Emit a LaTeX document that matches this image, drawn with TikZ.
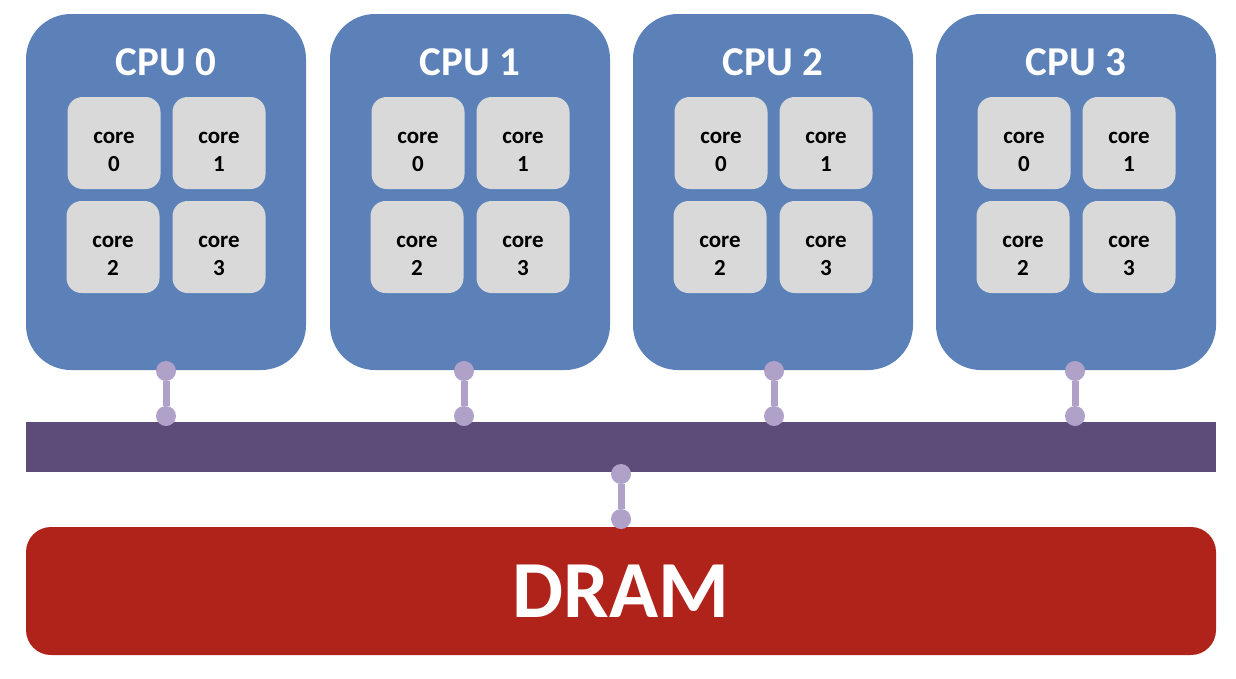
\documentclass[tikz,border=0pt]{standalone}
\usepackage{fontspec}
\setmainfont{Carlito}
\usetikzlibrary{positioning}
\definecolor{cpublue}{HTML}{5B81B8}
\definecolor{coregray}{HTML}{D9D9D9}
\definecolor{busviolet}{HTML}{5D4B7A}
\definecolor{linklilac}{HTML}{B0A1C8}
\definecolor{dramred}{HTML}{B0231A}
\tikzset{
  cpu/.style={fill=cpublue, rounded corners=45pt, minimum width=280pt, minimum height=356pt, inner sep=0pt},
  cpulabel/.style={text=white, font=\fontsize{41}{41}\selectfont\bfseries},
  core/.style={fill=coregray, rounded corners=15pt, minimum width=93pt, minimum height=92pt, inner sep=0pt},
  coretext/.style={align=center, yshift=-9pt, font=\fontsize{23}{28}\selectfont\bfseries},
  link/.style={draw=linklilac, line width=7pt},
  joint/.style={circle, fill=linklilac, minimum size=20pt, inner sep=0pt},
}

\begin{document}
\begin{tikzpicture}[x=1pt,y=-1pt]
        \useasboundingbox (0,0) rectangle (1236,678);
        % shared bus and main memory
        \node[fill=busviolet, minimum width=1190pt, minimum height=50pt, inner sep=0pt] (bus) at (621,447) {};
        \node[fill=dramred, rounded corners=25pt, minimum width=1190pt, minimum height=128pt, inner sep=0pt,
              text=white, font=\fontsize{81}{81}\selectfont\bfseries] (dram) at (621,591) {DRAM};
        % one socket per cpu, four cores each
        \foreach \i/\cx/\lx in {0/166/166, 1/470/464, 2/773/774, 3/1076/1075} {
            \node[cpu] (cpu\i) at (\cx,192) {};
            \node[cpulabel] (name\i) at (\cx,62) {CPU \i};
            \node[core, label={[coretext]center:{core\\0}}] (core\i a) at (\cx-52,143) {};
            \node[core, label={[coretext]center:{core\\1}}] (core\i b) at (\cx+53,143) {};
            \node[core, label={[coretext]center:{core\\2}}] (core\i c) at (\cx-53,247) {};
            \node[core, label={[coretext]center:{core\\3}}] (core\i d) at (\cx+53,247) {};
            \node[joint] (up\i) at (\lx,371) {};
            \node[joint] (down\i) at (\lx,416) {};
            \draw[link] (up\i) -- (down\i);
        }
        \node[joint] (memup) at (621,474) {};
        \node[joint] (memdown) at (621,519) {};
        \draw[link] (memup) -- (memdown);
\end{tikzpicture}
\end{document}
